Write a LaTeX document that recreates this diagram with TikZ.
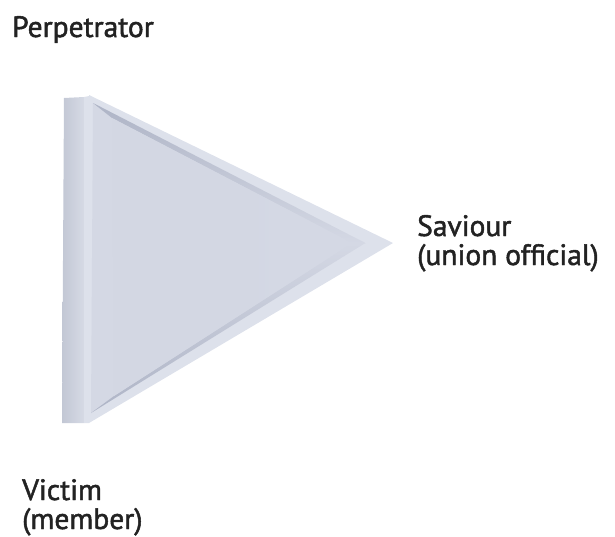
\documentclass[tikz,border=0pt]{standalone}
\usepackage{fontspec}
\setmainfont{PT Sans}[FakeBold=1.6]
\definecolor{facec}{RGB}{212,216,228}
\definecolor{outerc}{RGB}{221,225,235}
\definecolor{stripa}{RGB}{194,199,212}
\definecolor{stripb}{RGB}{214,218,229}
\definecolor{shadec}{RGB}{174,180,198}
\definecolor{txt}{RGB}{34,34,34}
\begin{document}
\begin{tikzpicture}[x=1pt,y=-1pt,
  lbl/.style={anchor=base west,align=left,font=\fontsize{29.5}{29}\selectfont,text=txt,inner sep=0pt}]
\useasboundingbox (0,0) rectangle (615,536);
% side strip
\shade[left color=stripa, right color=stripb]
  (64,98) -- (84,97) -- (84,423) -- (62,423) -- cycle;
\fill[outerc] (84,97) -- (89,96) -- (89,423) -- (84,423) -- cycle;
% outer triangle
\coordinate (A) at (89,95);
\coordinate (B) at (393,243);
\coordinate (C) at (89,423);
\fill[outerc] (A) -- (B) -- (C) -- cycle;
% inner triangle
\coordinate (a) at (93,103);
\coordinate (b) at (365,243);
\coordinate (c) at (91,413);
\fill[facec] (a) -- (b) -- (c) -- cycle;
% bevel shadows
\shade[top color=shadec, bottom color=facec] (a) -- (b) -- (352,243) -- (112,118) -- cycle;
\shade[top color=facec, bottom color=shadec] (b) -- (c) -- (114,396) -- (352,243) -- cycle;
\shade[left color=facec!92!stripa, right color=facec] (112,118) -- (352,243) -- (114,396) -- cycle;
% labels
\node[lbl] (perp) at (12,37) {Perpetrator};
\node[lbl] (sav) at (417,265) {Saviour\\(union official)};
\node[lbl] (vic) at (22,529) {Victim\\(member)};
\end{tikzpicture}
\end{document}
